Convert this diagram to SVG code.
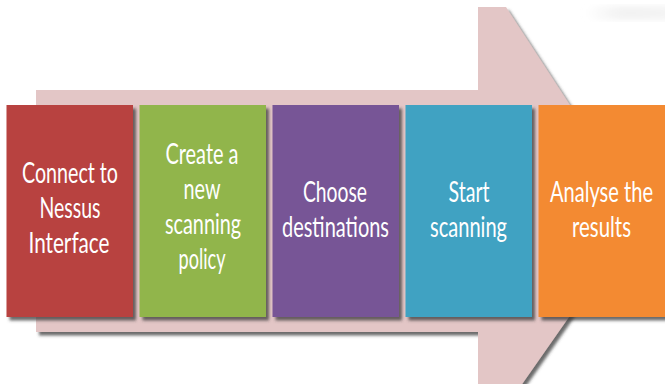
<svg xmlns="http://www.w3.org/2000/svg" width="665" height="384" viewBox="0 0 665 384">
  <defs>
    <filter id="shadow" x="-10%" y="-10%" width="130%" height="130%">
      <feDropShadow dx="3" dy="3.5" stdDeviation="1.4" flood-color="#3a3a3a" flood-opacity="0.75"/>
    </filter>
    <linearGradient id="haze" x1="0" y1="0" x2="1" y2="0">
      <stop offset="0" stop-color="#f2f2f2" stop-opacity="0"/>
      <stop offset="0.4" stop-color="#f2f2f2" stop-opacity="1"/>
      <stop offset="1" stop-color="#f4f4f4" stop-opacity="1"/>
    </linearGradient>
    <filter id="soft"><feGaussianBlur stdDeviation="3"/></filter>
  </defs>
  <style>
    .box { filter: url(#shadow); }
    .lbl { fill: #ffffff; font-family: Lato, "Open Sans", "DejaVu Sans", sans-serif; font-size: 28px; text-anchor: middle; }
  </style>

  <rect width="665" height="384" fill="#ffffff"/>
  <!-- faint highlight in the top-right corner -->
  <rect x="585" y="6" width="90" height="14" rx="7" fill="url(#haze)" filter="url(#soft)"/>

  <!-- large background arrow -->
  <g id="arrow">
    <polygon points="36,90 478,90 478,7 506,7 641,214 511,400 478,400 478,332 36,332" fill="#e3c6c6" filter="url(#shadow)"/>
  </g>

  <g id="step1">
    <rect class="box" x="6.5" y="105" width="126.5" height="212" fill="#b8433f"/>
    <text class="lbl" x="70" y="183" textLength="96" lengthAdjust="spacingAndGlyphs">Connect to</text>
    <text class="lbl" x="70" y="218" textLength="61" lengthAdjust="spacingAndGlyphs">Nessus</text>
    <text class="lbl" x="69" y="253" textLength="81" lengthAdjust="spacingAndGlyphs">Interface</text>
  </g>

  <g id="step2">
    <rect class="box" x="139.5" y="105" width="126.5" height="212" fill="#91b54b"/>
    <text class="lbl" x="202" y="164" textLength="73" lengthAdjust="spacingAndGlyphs">Create a</text>
    <text class="lbl" x="202" y="199" textLength="37" lengthAdjust="spacingAndGlyphs">new</text>
    <text class="lbl" x="203" y="234" textLength="76" lengthAdjust="spacingAndGlyphs">scanning</text>
    <text class="lbl" x="202" y="269" textLength="47" lengthAdjust="spacingAndGlyphs">policy</text>
  </g>

  <g id="step3">
    <rect class="box" x="272.5" y="105" width="126.5" height="212" fill="#775596"/>
    <text class="lbl" x="335" y="201.5" textLength="64" lengthAdjust="spacingAndGlyphs">Choose</text>
    <text class="lbl" x="335.5" y="236.5" textLength="107" lengthAdjust="spacingAndGlyphs">destinations</text>
  </g>

  <g id="step4">
    <rect class="box" x="405.5" y="105" width="126.5" height="212" fill="#3fa2c2"/>
    <text class="lbl" x="469" y="201.5" textLength="41" lengthAdjust="spacingAndGlyphs">Start</text>
    <text class="lbl" x="468.5" y="236.5" textLength="77" lengthAdjust="spacingAndGlyphs">scanning</text>
  </g>

  <g id="step5">
    <rect class="box" x="538.5" y="105" width="130" height="212" fill="#f38a32"/>
    <text class="lbl" x="601.5" y="201.5" textLength="103" lengthAdjust="spacingAndGlyphs">Analyse the</text>
    <text class="lbl" x="601.5" y="236.5" textLength="59" lengthAdjust="spacingAndGlyphs">results</text>
  </g>

  <g id="connectors"></g>
</svg>
